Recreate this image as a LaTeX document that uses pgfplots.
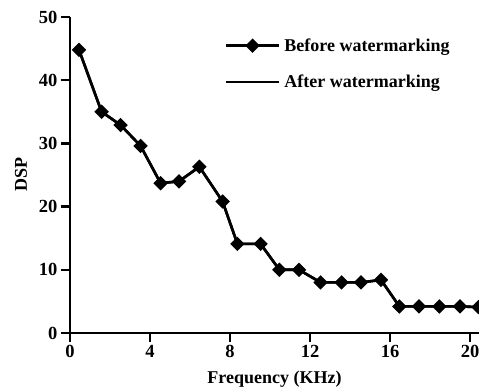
\documentclass[border=0pt]{standalone}
\usepackage{pgfplots}
\pgfplotsset{compat=1.18}
\usepackage{fontspec}
\setmainfont{Liberation Serif}
\pgfplotstableread{
x y
0.45 44.8
1.58 35.0
2.53 32.9
3.53 29.6
4.53 23.7
5.45 24.0
6.47 26.3
7.63 20.8
8.37 14.1
9.53 14.1
10.47 10.0
11.45 10.0
12.53 8.0
13.58 8.0
14.55 8.0
15.55 8.4
16.47 4.2
17.45 4.2
18.47 4.2
19.50 4.2
20.42 4.1
}\before
\pgfplotstableread{
x y
0.45 44.8
1.58 35.0
2.53 32.9
3.53 29.6
4.53 23.7
5.45 24.0
6.47 26.3
7.63 20.8
8.37 14.1
9.53 14.1
10.47 10.0
11.45 10.0
12.53 8.0
13.58 8.0
14.55 8.0
15.55 8.4
16.47 4.2
17.45 4.2
18.47 4.2
19.50 4.2
20.42 4.1
}\after
\begin{document}
\begin{tikzpicture}
\begin{axis}[
  scale only axis, width=409pt, height=316pt,
  xmin=0, xmax=20.45, ymin=0, ymax=50,
  axis x line=bottom, axis y line=left,
  axis line style={-, line width=2.6pt},
  xtick={0,4,...,20}, ytick={0,10,...,50},
  tick align=outside, major tick length=9pt,
  tick style={line width=2.4pt, black},
  ticklabel style={font=\fontsize{18.5}{20}\selectfont\bfseries},
  /pgf/number format/assume math mode=true,
  xlabel={Frequency (KHz)}, ylabel={DSP},
  label style={font=\fontsize{18}{20}\selectfont\bfseries},
  xlabel style={yshift=-6pt},
  ylabel style={yshift=5pt},
  clip=false,
  legend cell align=left,
  legend style={draw=none, fill=none, at={(rel axis cs:0.378,0.945)}, anchor=north west,
     inner sep=0pt, row sep=14pt, font=\fontsize{18}{20}\selectfont\bfseries,
     nodes={inner sep=4pt}},
  legend image code/.code={\draw[mark repeat=2,mark phase=2,#1] plot coordinates {(0pt,0pt) (26.5pt,0pt) (53pt,0pt)};},
]
\addplot[black, line width=2.6pt, mark=square*, mark size=3.8pt, mark options={rotate=45, solid}] table {\before};
\addlegendentry{Before watermarking}
\addplot[black, line width=2.6pt, no marks] table {\after};
\addlegendentry{After watermarking}
\coordinate (O) at (rel axis cs:0,0);
\coordinate (T) at (rel axis cs:1,1);
\end{axis}
\pgfresetboundingbox
\path ([xshift=-70pt,yshift=-55pt]O) rectangle ([yshift=17pt]T);
\end{tikzpicture}
\end{document}
